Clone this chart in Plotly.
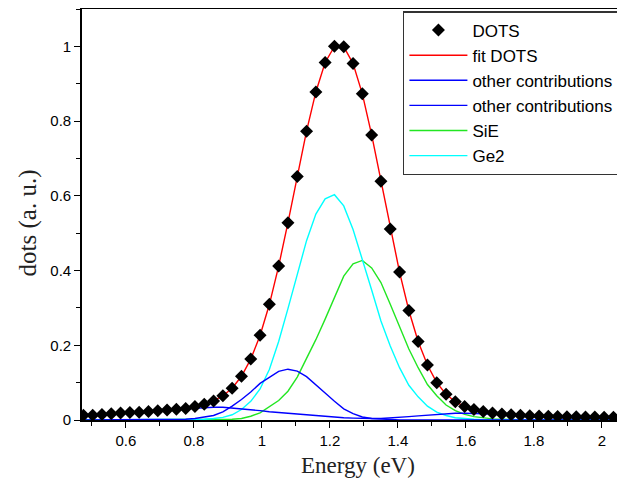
import plotly.graph_objects as go

energy = [0.4750, 0.5024, 0.5297, 0.5571, 0.5844, 0.6118, 0.6391, 0.6665, 0.6938, 0.7212,
          0.7485, 0.7759, 0.8032, 0.8306, 0.8579, 0.8853, 0.9126, 0.9400, 0.9673, 0.9947,
          1.0220, 1.0494, 1.0767, 1.1041, 1.1314, 1.1588, 1.1861, 1.2135, 1.2408, 1.2682,
          1.2955, 1.3229, 1.3502, 1.3776, 1.4049, 1.4323, 1.4596, 1.4870, 1.5143, 1.5417,
          1.5690, 1.5964, 1.6237, 1.6511, 1.6784, 1.7058, 1.7331, 1.7605, 1.7878, 1.8152,
          1.8425, 1.8699, 1.8972, 1.9246, 1.9519, 1.9793, 2.0066, 2.0340, 2.0613]

dots = [0.0125, 0.013, 0.015, 0.017, 0.019, 0.020, 0.021, 0.023, 0.025, 0.027,
        0.029, 0.031, 0.036, 0.042, 0.051, 0.065, 0.085, 0.117, 0.163, 0.227,
        0.310, 0.412, 0.528, 0.652, 0.773, 0.878, 0.957, 1.000, 0.999, 0.954,
        0.873, 0.763, 0.639, 0.511, 0.396, 0.293, 0.210, 0.147, 0.100, 0.069,
        0.049, 0.036, 0.028, 0.023, 0.019, 0.016, 0.014, 0.0125, 0.0115, 0.0107,
        0.010, 0.0095, 0.009, 0.0085, 0.008, 0.008, 0.0075, 0.0075, 0.007]

fit_dots = [0.011, 0.013, 0.015, 0.017, 0.019, 0.020, 0.021, 0.023, 0.025, 0.027,
            0.029, 0.032, 0.036, 0.042, 0.051, 0.065, 0.085, 0.117, 0.163, 0.226,
            0.309, 0.412, 0.528, 0.652, 0.773, 0.878, 0.957, 1.000, 0.999, 0.954,
            0.873, 0.763, 0.639, 0.511, 0.396, 0.293, 0.210, 0.147, 0.100, 0.069,
            0.049, 0.036, 0.028, 0.023, 0.019, 0.016, 0.013, 0.011, 0.010, 0.009,
            0.009, 0.008, 0.008, 0.008, 0.008, 0.007, 0.007, 0.007, 0.007]

other_narrow = [0, 0, 0, 0, 0, 0, 0, 0, 0, 0.0005,
                0.001, 0.002, 0.004, 0.007, 0.012, 0.022, 0.037, 0.055, 0.075, 0.098,
                0.115, 0.130, 0.136, 0.131, 0.116, 0.095, 0.072, 0.050, 0.030, 0.017,
                0.008, 0.004, 0.002, 0.001, 0, 0, 0, 0, 0, 0,
                0, 0, 0, 0, 0, 0, 0, 0, 0, 0,
                0, 0, 0, 0, 0, 0, 0, 0, 0]

other_broad = [0.011, 0.013, 0.015, 0.017, 0.019, 0.020, 0.021, 0.023, 0.025, 0.027,
               0.028, 0.030, 0.031, 0.033, 0.034, 0.034, 0.032, 0.030, 0.028, 0.025,
               0.022, 0.020, 0.017, 0.015, 0.013, 0.011, 0.009, 0.008, 0.006, 0.005,
               0.004, 0.004, 0.004, 0.005, 0.007, 0.009, 0.011, 0.013, 0.015, 0.017,
               0.018, 0.018, 0.018, 0.017, 0.016, 0.014, 0.012, 0.011, 0.010, 0.009,
               0.009, 0.008, 0.008, 0.008, 0.008, 0.007, 0.007, 0.007, 0.007]

sie = [0, 0, 0, 0, 0, 0, 0, 0, 0, 0,
       0, 0, 0, 0, 0.001, 0.001, 0.002, 0.004, 0.010, 0.019,
       0.035, 0.052, 0.077, 0.115, 0.165, 0.215, 0.270, 0.330, 0.385, 0.418,
       0.427, 0.407, 0.368, 0.310, 0.248, 0.190, 0.140, 0.095, 0.065, 0.040,
       0.025, 0.015, 0.009, 0.005, 0.003, 0.002, 0.001, 0, 0, 0,
       0, 0, 0, 0, 0, 0, 0, 0, 0]

ge2 = [0, 0, 0, 0, 0, 0, 0, 0, 0, 0,
       0, 0, 0.001, 0.002, 0.004, 0.007, 0.014, 0.028, 0.050, 0.083,
       0.135, 0.210, 0.298, 0.390, 0.480, 0.551, 0.592, 0.603, 0.573, 0.510,
       0.432, 0.348, 0.265, 0.198, 0.140, 0.093, 0.062, 0.037, 0.021, 0.012,
       0.006, 0.003, 0.002, 0.001, 0, 0, 0, 0, 0, 0,
       0, 0, 0, 0, 0, 0, 0, 0, 0]

x_ticks = [0.6, 0.8, 1, 1.2, 1.4, 1.6, 1.8, 2]
y_ticks = [0, 0.2, 0.4, 0.6, 0.8, 1]

fig = go.Figure()
lw = 1.4
fig.add_trace(go.Scatter(x=energy, y=fit_dots, mode="lines", name="fit DOTS",
                         line=dict(color="#ff0000", width=lw), legendrank=2))
fig.add_trace(go.Scatter(x=energy, y=sie, mode="lines", name="SiE",
                         line=dict(color="#22e622", width=lw), legendrank=5))
fig.add_trace(go.Scatter(x=energy, y=ge2, mode="lines", name="Ge2",
                         line=dict(color="#00ffff", width=lw), legendrank=6))
fig.add_trace(go.Scatter(x=energy, y=other_narrow, mode="lines", name="other contributions",
                         line=dict(color="#0000ff", width=lw), legendrank=3))
fig.add_trace(go.Scatter(x=energy, y=other_broad, mode="lines", name="other contributions",
                         line=dict(color="#0000ff", width=lw), legendrank=4))
fig.add_trace(go.Scatter(x=energy, y=dots, mode="markers", name="DOTS",
                         marker=dict(symbol="diamond", size=10, color="black"), legendrank=1))

axis_common = dict(showline=True, linecolor="black", linewidth=1.6, mirror=True,
                   ticks="outside", ticklen=6, tickwidth=1.3, tickcolor="black",
                   showgrid=False, zeroline=False, automargin=False,
                   tickfont=dict(family="Liberation Sans, Arial", size=15, color="black"),
                   minor=dict(ticks="outside", ticklen=4, tickwidth=1.1, tickcolor="black"))

fig.update_xaxes(range=[0.471, 2.068], tickvals=x_ticks, ticktext=[str(v) for v in x_ticks],
                 minor_dtick=0.1, **axis_common)
fig.update_yaxes(range=[0, 1.1], tickvals=y_ticks, ticktext=[str(v) for v in y_ticks],
                 minor_dtick=0.1, **axis_common)

fig.add_annotation(text="Energy (eV)", xref="paper", yref="paper", x=0.508, y=-0.11,
                   xanchor="center", yanchor="middle", showarrow=False,
                   font=dict(family="Liberation Serif", size=23, color="#222"))
fig.add_annotation(text="dots (a. u.)", xref="paper", yref="paper", x=-0.1, y=0.48,
                   xanchor="center", yanchor="middle", textangle=-90, showarrow=False,
                   font=dict(family="Liberation Serif", size=25, color="#222"))

# page body has an 8px margin, so the figure is sized to fill the rest of the window
fig.update_layout(
    width=617, height=479,
    margin=dict(l=74, r=0, t=1, b=67),
    plot_bgcolor="white", paper_bgcolor="white",
    legend=dict(x=0.591, y=0.995, xanchor="left", yanchor="top",
                bgcolor="white", bordercolor="#333", borderwidth=1.5,
                itemwidth=58,
                font=dict(family="Liberation Sans, Arial", size=17, color="black"),
                tracegroupgap=0),
)

fig.write_html("out.html")
